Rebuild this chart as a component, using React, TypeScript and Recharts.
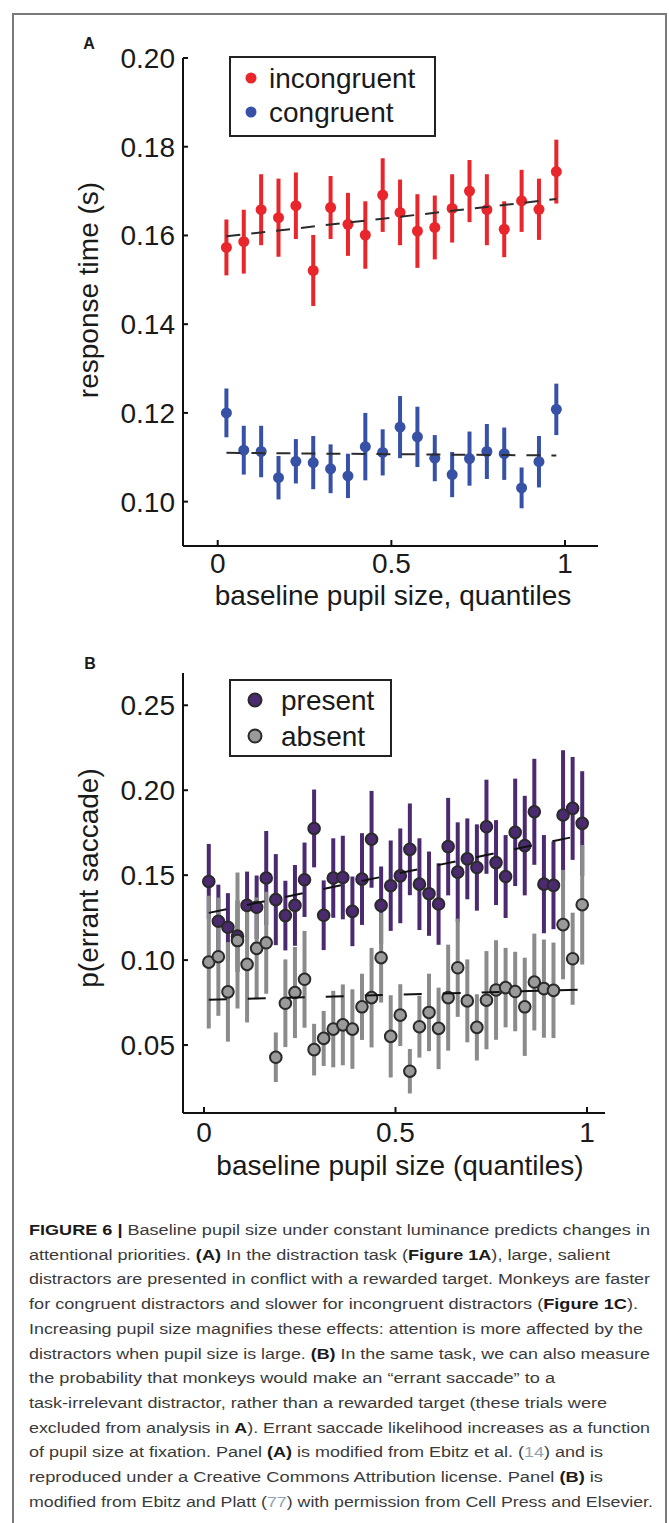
import React from 'react';
import { ScatterChart, Scatter, XAxis, YAxis, ErrorBar } from 'recharts';

const FONT = '"Liberation Sans", Arial, Helvetica, sans-serif';

// ---------- Panel A data ----------
const quantilesA = [0.025, 0.075, 0.125, 0.175, 0.225, 0.275, 0.325, 0.375, 0.425, 0.475, 0.525, 0.575, 0.625, 0.675, 0.725, 0.775, 0.825, 0.875, 0.925, 0.975];
const incongruentRT = [0.1573, 0.1586, 0.1658, 0.1640, 0.1667, 0.1521, 0.1663, 0.1625, 0.1601, 0.1691, 0.1652, 0.1610, 0.1618, 0.1661, 0.1700, 0.1658, 0.1614, 0.1678, 0.1659, 0.1744];
const incongruentErr = [0.0063, 0.0072, 0.0080, 0.0088, 0.0075, 0.0080, 0.0071, 0.0071, 0.0076, 0.0083, 0.0074, 0.0083, 0.0072, 0.0077, 0.0070, 0.0080, 0.0063, 0.0070, 0.0069, 0.0072];
const congruentRT = [0.1200, 0.1116, 0.1113, 0.1054, 0.1091, 0.1088, 0.1074, 0.1058, 0.1124, 0.1111, 0.1168, 0.1146, 0.1098, 0.1061, 0.1097, 0.1113, 0.1108, 0.1031, 0.1090, 0.1208];
const congruentErr = [0.0055, 0.0055, 0.0058, 0.0049, 0.0050, 0.0060, 0.0055, 0.0050, 0.0076, 0.0052, 0.0070, 0.0068, 0.0052, 0.0051, 0.0061, 0.0062, 0.0059, 0.0046, 0.0058, 0.0058];
const trendAx = [0.025, 0.975];
const incongruentTrend = [0.1598, 0.1682];
const congruentTrend = [0.1110, 0.1104];
const ticksAY = [0.10, 0.12, 0.14, 0.16, 0.18, 0.20];
const ticksX = [0, 0.5, 1];

// ---------- Panel B data ----------
const quantilesB = [0.0125, 0.0375, 0.0625, 0.0875, 0.1125, 0.1375, 0.1625, 0.1875, 0.2125, 0.2375, 0.2625, 0.2875, 0.3125, 0.3375, 0.3625, 0.3875, 0.4125, 0.4375, 0.4625, 0.4875, 0.5125, 0.5375, 0.5625, 0.5875, 0.6125, 0.6375, 0.6625, 0.6875, 0.7125, 0.7375, 0.7625, 0.7875, 0.8125, 0.8375, 0.8625, 0.8875, 0.9125, 0.9375, 0.9625, 0.9875];
const presentP = [0.1463, 0.1229, 0.1193, 0.1141, 0.1322, 0.1311, 0.1483, 0.1356, 0.1262, 0.1322, 0.1473, 0.1775, 0.1264, 0.1483, 0.1486, 0.1287, 0.1477, 0.1711, 0.1322, 0.1438, 0.1496, 0.1652, 0.1447, 0.1391, 0.1330, 0.1668, 0.1518, 0.1596, 0.1545, 0.1785, 0.1574, 0.1492, 0.1752, 0.1674, 0.1873, 0.1447, 0.1440, 0.1854, 0.1893, 0.1805];
const presentErr = [0.0221, 0.0215, 0.0201, 0.0210, 0.0199, 0.0187, 0.0277, 0.0268, 0.0205, 0.0238, 0.0219, 0.0229, 0.0205, 0.0234, 0.0246, 0.0205, 0.0270, 0.0285, 0.0229, 0.0266, 0.0279, 0.0270, 0.0270, 0.0248, 0.0240, 0.0287, 0.0293, 0.0238, 0.0254, 0.0277, 0.0250, 0.0244, 0.0316, 0.0293, 0.0312, 0.0289, 0.0258, 0.0381, 0.0303, 0.0307];
const absentP = [0.0988, 0.1020, 0.0813, 0.1115, 0.0975, 0.1069, 0.1102, 0.0428, 0.0746, 0.0809, 0.0887, 0.0473, 0.0539, 0.0594, 0.0619, 0.0594, 0.0725, 0.0779, 0.1014, 0.0551, 0.0676, 0.0346, 0.0608, 0.0692, 0.0598, 0.0779, 0.0955, 0.0760, 0.0604, 0.0764, 0.0824, 0.0838, 0.0815, 0.0725, 0.0871, 0.0832, 0.0822, 0.1209, 0.1008, 0.1326];
const absentErr = [0.0391, 0.0348, 0.0293, 0.0400, 0.0342, 0.0300, 0.0300, 0.0146, 0.0258, 0.0268, 0.0285, 0.0152, 0.0162, 0.0225, 0.0238, 0.0234, 0.0195, 0.0293, 0.0264, 0.0242, 0.0182, 0.0131, 0.0182, 0.0228, 0.0240, 0.0312, 0.0289, 0.0244, 0.0195, 0.0289, 0.0293, 0.0234, 0.0234, 0.0289, 0.0285, 0.0289, 0.0281, 0.0322, 0.0271, 0.0352];
const trendBx = [0.0125, 0.9875];
const presentTrend = [0.1278, 0.1736];
const absentTrend = [0.0766, 0.0826];
const ticksBY = [0.05, 0.10, 0.15, 0.20, 0.25];

// ---------- Caption ----------
type Seg = { t: string; b?: boolean; l?: boolean };
const captionLines: Seg[][] = [
  [{ t: 'FIGURE 6 |', b: true }, { t: ' Baseline pupil size under constant luminance predicts changes in' }],
  [{ t: 'attentional priorities. ' }, { t: '(A)', b: true }, { t: ' In the distraction task (' }, { t: 'Figure 1A', b: true }, { t: '), large, salient' }],
  [{ t: 'distractors are presented in conflict with a rewarded target. Monkeys are faster' }],
  [{ t: 'for congruent distractors and slower for incongruent distractors (' }, { t: 'Figure 1C', b: true }, { t: ').' }],
  [{ t: 'Increasing pupil size magnifies these effects: attention is more affected by the' }],
  [{ t: 'distractors when pupil size is large. ' }, { t: '(B)', b: true }, { t: ' In the same task, we can also measure' }],
  [{ t: 'the probability that monkeys would make an \u201Cerrant saccade\u201D to a' }],
  [{ t: 'task-irrelevant distractor, rather than a rewarded target (these trials were' }],
  [{ t: 'excluded from analysis in ' }, { t: 'A', b: true }, { t: '). Errant saccade likelihood increases as a function' }],
  [{ t: 'of pupil size at fixation. Panel ' }, { t: '(A)', b: true }, { t: ' is modified from Ebitz et al. (' }, { t: '14', l: true }, { t: ') and is' }],
  [{ t: 'reproduced under a Creative Commons Attribution license. Panel ' }, { t: '(B)', b: true }, { t: ' is' }],
  [{ t: 'modified from Ebitz and Platt (' }, { t: '77', l: true }, { t: ') with permission from Cell Press and Elsevier.' }],
];
const captionLineEnds = [650, 610, 650, 638, 643, 650, 555, 607, 650, 603, 603, 653];

const rowsOf = (xs: number[], ys: number[], es?: number[]) =>
  xs.map((x, i) => ({ x, y: ys[i], err: es ? es[i] : 0 }));

const YTick = (props: any) => {
  const { x, y, payload } = props;
  return (
    <g>
      <line x1={x} x2={x + 5} y1={y} y2={y} stroke="#111" strokeWidth={2} />
      <text x={x - 8} y={y + 10} textAnchor="end" fontSize={28} fontFamily={FONT} fill="#1a1a1a">
        {Number(payload.value).toFixed(2)}
      </text>
    </g>
  );
};

const makeXTick = (dyText: number) => (props: any) => {
  const { x, y, payload } = props;
  return (
    <g>
      <line x1={x} x2={x} y1={y} y2={y - 6} stroke="#111" strokeWidth={2} />
      <text x={x} y={y + dyText} textAnchor="middle" fontSize={28} fontFamily={FONT} fill="#1a1a1a">
        {String(payload.value)}
      </text>
    </g>
  );
};
const XTickA = makeXTick(27);
const XTickB = makeXTick(29);

const noShape = () => <g />;
const dot = (r: number, fill: string, stroke = 'none', sw = 0) => (p: any) =>
  <circle cx={p.cx} cy={p.cy} r={r} fill={fill} stroke={stroke} strokeWidth={sw} />;

const RED = '#e8262b';
const BLUE = '#3651a6';
const PURPLE = '#4b2a70';
const GREYBAR = '#8b8b8b';
const GREYDOT = '#9a9a9a';
const OUTLINE = '#2a2a2a';

const axisLine = { stroke: '#111', strokeWidth: 2 };
const Y_W = 60;
const X_H = 60;

function PanelA() {
  const inc = rowsOf(quantilesA, incongruentRT, incongruentErr);
  const con = rowsOf(quantilesA, congruentRT, congruentErr);
  const incT = rowsOf(trendAx, incongruentTrend);
  const conT = rowsOf(trendAx, congruentTrend);
  return (
    <ScatterChart width={669} height={620} margin={{ top: 58, right: 71, bottom: 620 - 546 - X_H, left: 183 - Y_W }}>
      <XAxis type="number" dataKey="x" domain={[-0.1, 1.095]} ticks={ticksX} allowDataOverflow
        height={X_H} tickSize={0} tickMargin={0} tickLine={false} axisLine={axisLine}
        tick={XTickA} interval={0} />
      <YAxis type="number" dataKey="y" domain={[0.09, 0.2]} ticks={ticksAY} allowDataOverflow
        width={Y_W} tickSize={0} tickMargin={0} tickLine={false} axisLine={axisLine}
        tick={YTick} interval={0} />
      <Scatter data={inc} shape={dot(5.5, RED)} isAnimationActive={false}>
        <ErrorBar dataKey="err" direction="y" width={0} stroke={RED} strokeWidth={4} />
      </Scatter>
      <Scatter data={con} shape={dot(5.5, BLUE)} isAnimationActive={false}>
        <ErrorBar dataKey="err" direction="y" width={0} stroke={BLUE} strokeWidth={4} />
      </Scatter>
      <Scatter data={incT} shape={noShape} isAnimationActive={false}
        line={{ stroke: '#2b2b2b', strokeWidth: 2, strokeDasharray: '14 11' }} />
      <Scatter data={conT} shape={noShape} isAnimationActive={false}
        line={{ stroke: '#2b2b2b', strokeWidth: 2, strokeDasharray: '14 11' }} />
    </ScatterChart>
  );
}

function PanelB() {
  const pre = rowsOf(quantilesB, presentP, presentErr);
  const abs = rowsOf(quantilesB, absentP, absentErr);
  const preT = rowsOf(trendBx, presentTrend);
  const absT = rowsOf(trendBx, absentTrend);
  return (
    <ScatterChart width={669} height={560} margin={{ top: 53, right: 64, bottom: 560 - 493 - X_H, left: 183 - Y_W }}>
      <XAxis type="number" dataKey="x" domain={[-0.0548, 1.047]} ticks={ticksX} allowDataOverflow
        height={X_H} tickSize={0} tickMargin={0} tickLine={false} axisLine={axisLine}
        tick={XTickB} interval={0} />
      <YAxis type="number" dataKey="y" domain={[0.01, 0.269]} ticks={ticksBY} allowDataOverflow
        width={Y_W} tickSize={0} tickMargin={0} tickLine={false} axisLine={axisLine}
        tick={YTick} interval={0} />
      <Scatter data={pre} shape={noShape} isAnimationActive={false}>
        <ErrorBar dataKey="err" direction="y" width={0} stroke={PURPLE} strokeWidth={4} />
      </Scatter>
      <Scatter data={abs} shape={noShape} isAnimationActive={false}>
        <ErrorBar dataKey="err" direction="y" width={0} stroke={GREYBAR} strokeWidth={4} />
      </Scatter>
      <Scatter data={pre} shape={dot(5.8, PURPLE, OUTLINE, 2)} isAnimationActive={false} />
      <Scatter data={abs} shape={dot(5.8, GREYDOT, OUTLINE, 2)} isAnimationActive={false} />
      <Scatter data={preT} shape={noShape} isAnimationActive={false}
        line={{ stroke: '#111', strokeWidth: 2, strokeDasharray: '18 21' }} />
      <Scatter data={absT} shape={noShape} isAnimationActive={false}
        line={{ stroke: '#111', strokeWidth: 2, strokeDasharray: '18 21' }} />
    </ScatterChart>
  );
}

function Overlay() {
  const txt = { fontFamily: FONT, fill: '#1a1a1a' } as const;
  return (
    <svg width={669} height={1523} style={{ position: 'absolute', left: 0, top: 0, pointerEvents: 'none' }}>
      <text x={89} y={49} textAnchor="middle" fontSize={16} fontWeight="bold" {...txt}>A</text>
      <text x={90} y={669} textAnchor="middle" fontSize={16} fontWeight="bold" {...txt}>B</text>

      <text transform="translate(98,290) rotate(-90)" textAnchor="middle" fontSize={28} {...txt}>response time (s)</text>
      <text x={393} y={605} textAnchor="middle" fontSize={28} {...txt}>baseline pupil size, quantiles</text>

      <rect x={230} y={57} width={205} height={79} fill="#fff" stroke="#222" strokeWidth={2} />
      <circle cx={251} cy={78} r={5.5} fill={RED} />
      <text x={269} y={88} fontSize={28} {...txt}>incongruent</text>
      <circle cx={251} cy={112} r={5.5} fill={BLUE} />
      <text x={269} y={122} fontSize={28} {...txt}>congruent</text>

      <text transform="translate(98,878) rotate(-90)" textAnchor="middle" fontSize={28} {...txt}>p(errant saccade)</text>
      <text x={400} y={1175} textAnchor="middle" fontSize={28} {...txt}>baseline pupil size (quantiles)</text>

      <rect x={230} y={680} width={161} height={76} fill="#fff" stroke="#222" strokeWidth={2} />
      <circle cx={255} cy={700} r={6.5} fill={PURPLE} stroke={OUTLINE} strokeWidth={2} />
      <text x={281} y={710} fontSize={28} {...txt}>present</text>
      <circle cx={255} cy={736} r={6.5} fill={GREYDOT} stroke={OUTLINE} strokeWidth={2} />
      <text x={281} y={746} fontSize={28} {...txt}>absent</text>

      {captionLines.map((segs, i) => (
        <text key={i} x={29} y={1235 + i * 24.7} fontSize={15.5} fontFamily={FONT} fill="#3a3a3a"
          textLength={captionLineEnds[i] - 29} lengthAdjust="spacingAndGlyphs">
          {segs.map((s, j) => (
            <tspan key={j} fontWeight={s.b ? 'bold' : 'normal'} fill={s.b ? '#1a1a1a' : s.l ? '#8fa3b5' : '#3a3a3a'}>{s.t}</tspan>
          ))}
        </text>
      ))}
    </svg>
  );
}

export default function App() {
  return (
    <div style={{ position: 'absolute', left: 0, top: 0, width: 669, height: 1523, background: '#fff', overflow: 'hidden' }}>
      <div style={{ position: 'absolute', left: 12, top: 13, width: 655, height: 1530, border: '2px solid #7a7a7a', boxSizing: 'border-box' }} />
      <div style={{ position: 'absolute', left: 0, top: 0 }}>
        <PanelA />
      </div>
      <div style={{ position: 'absolute', left: 0, top: 620 }}>
        <PanelB />
      </div>
      <Overlay />
    </div>
  );
}
